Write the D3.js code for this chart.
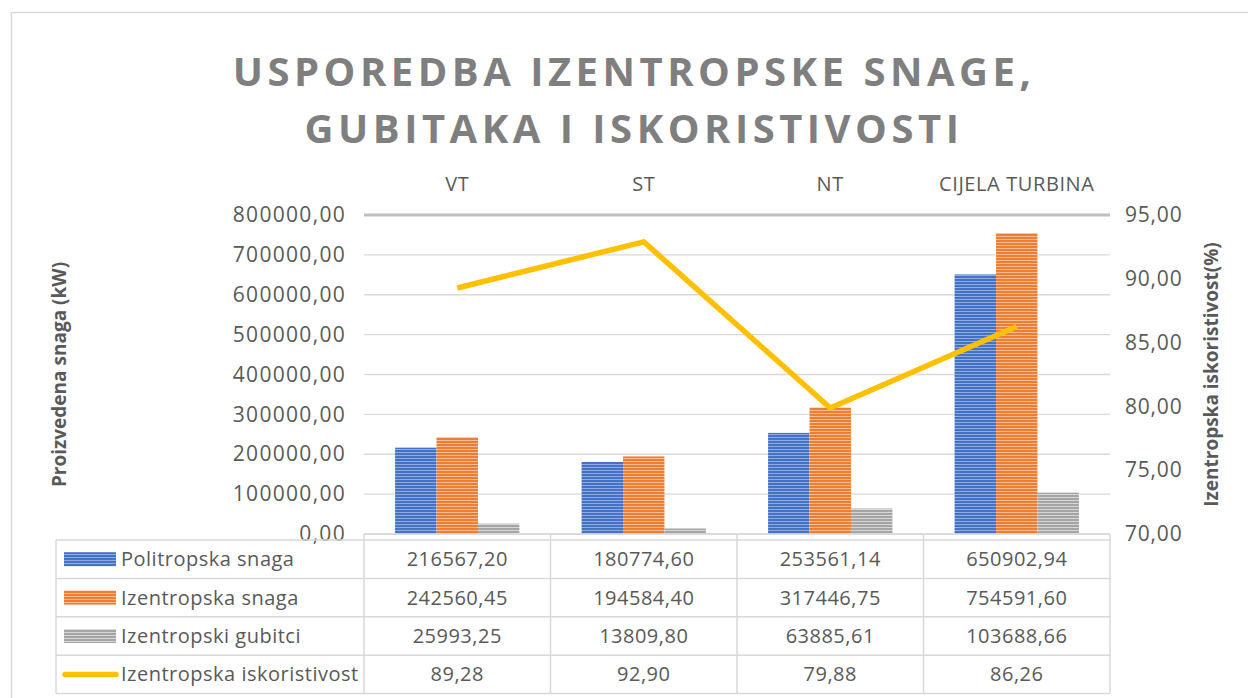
<!DOCTYPE html>
<html>
<head>
<meta charset="utf-8">
<script src="https://cdn.jsdelivr.net/npm/d3@7"></script>
<style>
  body { margin: 0; background: #fff; }
  svg { display: block; font-family: "Open Sans", "Liberation Sans", sans-serif; }
</style>
</head>
<body>
<div id="chart"></div>
<script>
// data
const categories = ["VT", "ST", "NT", "CIJELA TURBINA"];
const politropska = [216567.20, 180774.60, 253561.14, 650902.94];
const izentropska = [242560.45, 194584.40, 317446.75, 754591.60];
const gubitci = [25993.25, 13809.80, 63885.61, 103688.66];
const iskoristivost = [89.28, 92.90, 79.88, 86.26];
const leftTicks = [0, 100000, 200000, 300000, 400000, 500000, 600000, 700000, 800000];
const rightTicks = [70, 75, 80, 85, 90, 95];

const barSeries = [
  { name: "Politropska snaga", values: politropska, color: "#4472C4", light: "#8faadc" },
  { name: "Izentropska snaga", values: izentropska, color: "#ED7D31", light: "#f6bd98" },
  { name: "Izentropski gubitci", values: gubitci, color: "#A5A5A5", light: "#d6d6d6" }
];
const lineSeries = { name: "Izentropska iskoristivost", values: iskoristivost, color: "#FFC000" };

const fmt = v => v.toFixed(2).replace(".", ",");

const width = 1248, height = 698;
const plot = { left: 364, right: 1110, top: 215, bottom: 534 };
const textColor = "#595959";

const svg = d3.select("#chart").append("svg")
  .attr("width", width)
  .attr("height", height);

// stripe patterns for the bars
const defs = svg.append("defs");
barSeries.forEach((s, i) => {
  const p = defs.append("pattern")
    .attr("id", "stripe" + i)
    .attr("patternUnits", "userSpaceOnUse")
    .attr("width", 6)
    .attr("height", 3);
  p.append("rect").attr("width", 6).attr("height", 3).attr("fill", s.color);
  p.append("rect").attr("y", 2).attr("width", 6).attr("height", 1).attr("fill", s.light);
});

// chart border
svg.append("rect")
  .attr("x", 11.5).attr("y", 12.5)
  .attr("width", 1260).attr("height", 700)
  .attr("fill", "none")
  .attr("stroke", "#d9d9d9")
  .attr("stroke-width", 1.5);

// title
const title = svg.append("text")
  .attr("text-anchor", "middle")
  .attr("fill", "#7f7f7f")
  .style("font-size", "40px")
  .style("font-weight", "700")
  .style("letter-spacing", "4.5px");
title.append("tspan").attr("x", 634).attr("y", 86).text("USPOREDBA IZENTROPSKE SNAGE,");
title.append("tspan").attr("x", 634).attr("y", 143).text("GUBITAKA I ISKORISTIVOSTI");

// scales
const x0 = d3.scaleBand()
  .domain(categories)
  .range([plot.left, plot.right]);

const x1 = d3.scaleBand()
  .domain(barSeries.map(s => s.name))
  .range([0, x0.bandwidth()])
  .paddingOuter(0.75);

const y = d3.scaleLinear()
  .domain([0, 800000])
  .range([plot.bottom, plot.top]);

const y2 = d3.scaleLinear()
  .domain([70, 95])
  .range([plot.bottom, plot.top]);

// gridlines
svg.append("g")
  .selectAll("line")
  .data(leftTicks)
  .join("line")
  .attr("x1", plot.left)
  .attr("x2", plot.right)
  .attr("y1", d => y(d))
  .attr("y2", d => y(d))
  .attr("stroke", d => d === 800000 ? "#bfbfbf" : "#d9d9d9")
  .attr("stroke-width", d => d === 800000 ? 3 : 1.3);

// left axis
const leftAxis = svg.append("g")
  .attr("transform", `translate(${plot.left},0)`)
  .call(d3.axisLeft(y).tickValues(leftTicks).tickFormat(fmt).tickSize(0).tickPadding(18));
leftAxis.select(".domain").remove();
leftAxis.selectAll("text")
  .attr("fill", textColor)
  .style("font-size", "21px")
  .style("letter-spacing", "1.3px")
  .style("font-family", "Open Sans");

// right axis
const rightAxis = svg.append("g")
  .attr("transform", `translate(${plot.right},0)`)
  .call(d3.axisRight(y2).tickValues(rightTicks).tickFormat(fmt).tickSize(0).tickPadding(15));
rightAxis.select(".domain").remove();
rightAxis.selectAll("text")
  .attr("fill", textColor)
  .style("font-size", "21px")
  .style("letter-spacing", "0.8px")
  .style("font-family", "Open Sans");

// category labels on top
svg.append("g")
  .selectAll("text")
  .data(categories)
  .join("text")
  .attr("x", d => x0(d) + x0.bandwidth() / 2)
  .attr("y", 191)
  .attr("text-anchor", "middle")
  .attr("fill", textColor)
  .style("font-size", "20px")
  .style("letter-spacing", "0.6px")
  .text(d => d);

// axis titles
svg.append("text")
  .attr("transform", `translate(66,${(plot.top + plot.bottom) / 2}) rotate(-90)`)
  .attr("text-anchor", "middle")
  .attr("fill", textColor)
  .style("font-size", "19px")
  .style("font-weight", "700")
  .text("Proizvedena snaga (kW)");

svg.append("text")
  .attr("transform", `translate(1218,${(plot.top + plot.bottom) / 2}) rotate(-90)`)
  .attr("text-anchor", "middle")
  .attr("fill", textColor)
  .style("font-size", "19px")
  .style("font-weight", "700")
  .text("Izentropska iskoristivost(%)");

// bars
barSeries.forEach((s, i) => {
  svg.append("g")
    .selectAll("rect")
    .data(s.values.map((v, j) => ({ cat: categories[j], value: v })))
    .join("rect")
    .attr("x", d => x0(d.cat) + x1(s.name))
    .attr("y", d => y(d.value))
    .attr("width", x1.bandwidth())
    .attr("height", d => y(0) - y(d.value))
    .attr("fill", `url(#stripe${i})`);
});

// line
svg.append("path")
  .datum(lineSeries.values.map((v, j) => ({ cat: categories[j], value: v })))
  .attr("fill", "none")
  .attr("stroke", lineSeries.color)
  .attr("stroke-width", 5.5)
  .attr("stroke-linejoin", "round")
  .attr("d", d3.line()
    .x(d => x0(d.cat) + x0.bandwidth() / 2)
    .y(d => y2(d.value)));

// bottom axis line
svg.append("line")
  .attr("x1", plot.left).attr("x2", plot.right)
  .attr("y1", plot.bottom).attr("y2", plot.bottom)
  .attr("stroke", "#d9d9d9")
  .attr("stroke-width", 1.5);

// data table
const rows = [...barSeries, lineSeries];
const tableLeft = 56;
const rowTop = 540, rowH = 38.4;
const table = svg.append("g");

// horizontal lines
const hLines = d3.range(rows.length + 1).map(i => rowTop + i * rowH);
table.selectAll(".hline")
  .data(hLines)
  .join("line")
  .attr("class", "hline")
  .attr("x1", tableLeft)
  .attr("x2", plot.right)
  .attr("y1", d => d)
  .attr("y2", d => d)
  .attr("stroke", "#d9d9d9")
  .attr("stroke-width", 1.5);

// vertical lines
table.append("line")
  .attr("x1", tableLeft).attr("x2", tableLeft)
  .attr("y1", rowTop).attr("y2", hLines[hLines.length - 1])
  .attr("stroke", "#d9d9d9").attr("stroke-width", 1.5);
table.selectAll(".vline")
  .data(categories.map(c => x0(c)).concat([plot.right]))
  .join("line")
  .attr("class", "vline")
  .attr("x1", d => d)
  .attr("x2", d => d)
  .attr("y1", plot.bottom)
  .attr("y2", hLines[hLines.length - 1])
  .attr("stroke", "#d9d9d9")
  .attr("stroke-width", 1.5);

rows.forEach((r, i) => {
  const cy = rowTop + i * rowH + rowH / 2;
  // legend key
  if (i < barSeries.length) {
    table.append("rect")
      .attr("x", 64).attr("y", cy - 7)
      .attr("width", 52).attr("height", 14)
      .attr("fill", `url(#stripe${i})`);
  } else {
    table.append("line")
      .attr("x1", 65).attr("x2", 116)
      .attr("y1", cy).attr("y2", cy)
      .attr("stroke", r.color)
      .attr("stroke-width", 5.5)
      .attr("stroke-linecap", "round");
  }
  table.append("text")
    .attr("x", 121)
    .attr("y", cy)
    .attr("dy", "0.35em")
    .attr("fill", textColor)
    .style("font-size", "20px")
    .style("letter-spacing", "0.5px")
    .text(r.name);
  table.selectAll(".val" + i)
    .data(r.values.map((v, j) => ({ cat: categories[j], value: v })))
    .join("text")
    .attr("x", d => x0(d.cat) + x0.bandwidth() / 2)
    .attr("y", cy)
    .attr("dy", "0.35em")
    .attr("text-anchor", "middle")
    .attr("fill", textColor)
    .style("font-size", "20px")
    .style("letter-spacing", "0.5px")
    .text(d => fmt(d.value));
});
</script>
</body>
</html>
